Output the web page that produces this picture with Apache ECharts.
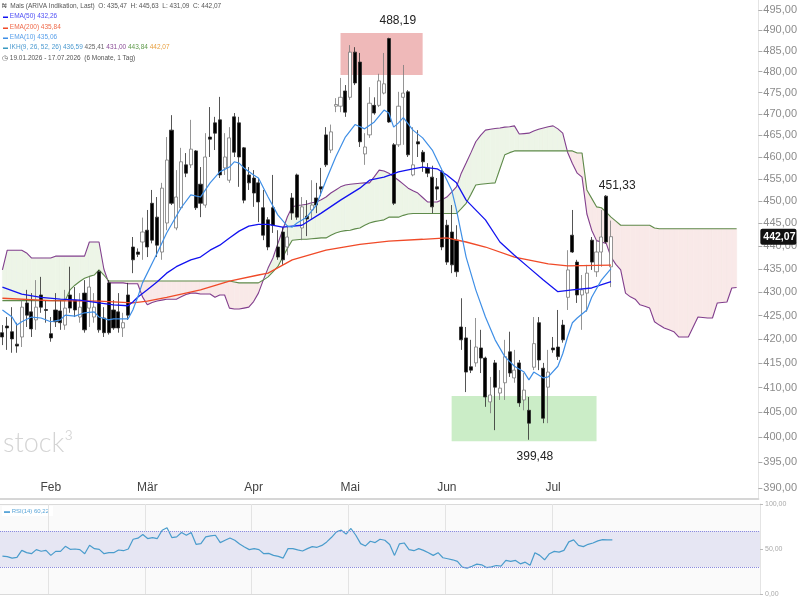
<!DOCTYPE html>
<html><head><meta charset="utf-8">
<script src="https://cdn.jsdelivr.net/npm/echarts@6/dist/echarts.min.js"></script>
<style>html,body{margin:0;padding:0;background:#fff}#c{width:800px;height:600px}</style>
</head><body><div id="c"></div>
<script>
// ---- trading days (categories) ----
const janDays = [19,20,21,22,23,26,27,28,29,30];
const febDays = [2,3,4,5,6,9,10,11,12,13,16,17,18,19,20,23,24,25,26,27];
const marDays = [2,3,4,5,6,9,10,11,12,13,16,17,18,19,20,23,24,25,26,27,30,31];
const aprDays = [1,2,7,8,9,10,13,14,15,16,17,20,21,22,23,24,27,28,29,30];
const mayDays = [4,5,6,7,8,11,12,13,14,15,18,19,20,21,22,25,26,27,28,29];
const junDays = [1,2,3,4,5,8,9,10,11,12,15,16,17,18,19,22,23,24,25,26,29,30];
const julDays = [1,2,3,6,7,8,9,10,13,14,15,16,17];
const monthNames = ['Jan','Feb','Mär','Apr','Mai','Jun','Jul'];
const futureSlots = 30;

// ---- OHLC ----
const opens = [421.4,422.8,421.6,419.0,420.5,427.7,425.8,424.1,429.4,426.3,
421.2,426.2,426.0,423.0,429.4,428.3,424.7,429.8,426.6,424.7,
434.4,424.5,432.0,426.2,425.8,422.4,429.4,439.8,438.7,440.9,
443.5,449.5,446.4,438.7,445.1,466.2,444.0,448.5,458.2,458.2,
461.4,453.8,449.1,464.6,467.9,468.6,457.5,454.7,469.3,467.9,
462.1,455.9,455.2,454.1,448.5,445.8,448.5,439.8,443.1,439.8,
450.7,455.9,444.0,446.6,448.0,450.7,453.2,465.1,461.6,471.8,
471.8,475.4,473.9,484.7,482.3,460.7,465.1,472.0,472.0,474.9,
488.0,462.8,462.8,473.9,475.2,455.9,463.5,461.1,457.5,455.4,
453.2,456.6,444.6,443.1,441.3,422.6,420.3,414.3,415.1,418.2,
416.1,407.1,415.1,408.9,411.0,417.4,412.0,415.1,407.5,405.4,
414.2,423.5,414.0,410.1,418.2,418.4,423.0,428.9,442.4,436.5,
429.4,429.8,441.3,434.4,438.7,451.1,435.47];
const highs = [423.0,424.7,426.8,423.5,428.3,430.5,429.8,432.6,433.3,428.3,
424.7,429.8,428.3,430.5,435.5,431.1,429.8,432.6,433.3,429.8,
434.8,426.8,432.6,428.3,429.8,425.6,432.0,442.0,439.5,446.3,
448.0,452.5,450.9,454.1,464.6,469.7,457.0,462.1,460.9,468.6,
461.6,457.7,465.5,471.6,469.3,474.0,465.5,466.9,470.2,469.3,
462.3,457.7,457.0,455.2,452.5,446.4,455.9,443.5,444.2,444.6,
451.8,456.2,450.9,450.2,454.7,454.1,457.5,466.9,467.5,473.7,
478.5,476.8,486.4,485.9,484.5,465.5,476.3,473.9,479.5,484.5,
488.19,463.2,475.2,481.6,475.6,466.9,466.2,461.6,458.6,458.0,
455.2,457.0,445.8,449.1,444.6,428.7,422.6,419.9,424.5,422.0,
416.4,412.2,415.7,413.6,419.9,421.6,417.8,415.7,413.0,408.1,
424.7,424.7,415.1,417.8,420.5,426.2,424.1,439.1,448.0,437.0,
433.7,435.9,442.0,441.3,448.0,451.33,445.63];
const lows = [418.8,417.8,417.2,417.2,418.4,422.6,420.5,422.0,425.6,423.5,
419.5,422.6,422.0,422.0,425.6,424.7,423.5,421.4,422.6,423.5,
421.4,420.5,421.0,422.0,421.4,420.5,424.1,434.1,437.6,437.0,
437.6,440.6,437.6,437.0,443.5,449.1,443.5,448.0,455.4,457.5,
448.0,446.4,448.5,460.0,461.6,455.2,455.9,454.1,460.0,453.2,
449.5,452.5,448.7,445.3,441.3,439.1,442.9,437.0,435.9,438.0,
445.8,445.8,441.3,442.2,445.8,447.3,451.1,457.7,460.9,470.4,
470.4,469.3,473.3,476.8,462.3,458.2,464.4,469.8,471.6,474.6,
467.9,449.1,462.3,462.8,460.0,455.6,460.0,456.6,455.4,447.3,
450.2,439.1,435.9,434.1,433.3,417.8,409.1,413.0,414.3,413.0,
406.1,404.8,401.4,407.5,407.5,412.2,411.0,406.1,405.4,399.48,
413.6,413.6,402.8,402.8,417.2,415.7,419.3,426.2,438.5,427.7,
422.0,425.8,434.8,433.3,435.5,440.6,431.09];
const closes = [420.5,422.4,420.1,418.6,426.8,425.1,422.2,426.8,426.8,426.1,
420.3,423.7,423.5,426.6,426.6,426.2,426.8,422.0,431.1,426.8,
422.0,421.4,421.4,422.4,422.4,423.5,425.1,437.0,438.2,443.1,
439.8,441.3,440.2,452.9,459.3,449.5,450.9,458.9,456.3,461.8,
448.5,449.5,460.0,464.1,465.5,455.9,460.0,464.4,461.1,460.0,
450.2,454.1,451.8,449.8,442.4,439.8,444.6,437.6,437.0,442.0,
447.3,446.4,448.7,446.0,449.1,449.1,452.7,458.2,465.8,472.2,
473.9,470.4,484.7,477.3,463.5,462.3,472.5,470.2,477.8,477.1,
468.1,449.5,471.8,474.9,460.5,458.2,463.0,458.9,456.3,448.7,
452.7,439.8,436.5,435.9,434.4,419.9,413.2,413.6,418.4,416.1,
408.1,408.5,410.1,409.9,416.4,413.0,413.6,406.9,409.5,402.8,
419.1,415.7,403.8,413.2,417.8,416.4,419.9,434.8,438.7,429.4,
430.5,434.1,436.5,438.7,442.0,440.9,442.07];

// ---- moving averages [index, value] ----
const ema50 = [[0,431.1],[4,429.6],[8,428.9],[12,428.5],[16,428.3],[20,427.7],[23,427.3],[26,427.1],[27,427.9],[28,428.9],[30,430.5],[32,432.2],[34,434.1],[36,435.5],[39,437.0],[41,437.6],[43,439.1],[45,440.2],[47,441.8],[49,443.3],[51,444.4],[53,444.8],[55,444.8],[58,444.2],[62,444.6],[66,447.3],[70,450.2],[74,452.9],[76,454.7],[79,455.4],[82,456.6],[85,457.3],[87,457.7],[90,457.3],[92,455.9],[94,454.1],[96,450.2],[100,445.8],[103,440.9],[106,438.0],[109,435.3],[112,432.6],[115,430.1],[118,430.5],[122,430.9],[126,432.26]];
const ema200 = [[0,428.7],[10,428.2],[20,428.1],[27,427.7],[30,428.1],[34,428.9],[41,430.5],[47,432.4],[53,433.7],[55,434.1],[60,437.0],[67,439.1],[74,440.4],[80,441.1],[87,441.5],[92,441.8],[96,440.9],[100,439.8],[106,437.6],[113,436.1],[117,435.7],[126,435.84]];
const ema10 = [[0,426.2],[2,424.7],[3,423.0],[4,423.7],[6,424.7],[8,424.5],[10,423.7],[12,424.1],[13,425.1],[15,424.9],[17,425.6],[19,425.8],[20,424.7],[22,424.1],[23,424.3],[26,424.3],[27,426.2],[28,428.9],[29,432.0],[32,438.4],[34,442.9],[37,448.5],[39,451.4],[41,450.9],[43,454.1],[45,456.6],[47,457.7],[48,458.9],[49,458.6],[50,457.5],[52,455.9],[53,455.2],[55,450.9],[57,446.9],[59,444.4],[60,444.2],[61,445.1],[63,446.4],[65,449.1],[67,454.7],[69,460.0],[71,464.6],[73,467.5],[75,466.5],[77,468.1],[79,470.9],[80,470.2],[81,466.9],[82,467.9],[83,469.1],[85,466.2],[87,464.4],[89,461.6],[91,457.0],[93,452.5],[94,448.0],[96,437.6],[98,430.5],[100,424.7],[102,419.9],[104,416.4],[106,414.4],[108,413.2],[109,411.6],[110,413.2],[112,412.0],[113,412.2],[115,414.4],[116,417.0],[117,420.5],[118,423.5],[119,424.5],[121,426.2],[122,428.9],[124,432.6],[126,435.06]];

// ---- Ichimoku Senkou spans (one value per slot, 0..152) ----
const senkouA = [434.8,439.1,439.1,439.1,439.1,438.5,437.4,437.4,437.4,437.4,
437.4,437.8,437.8,437.8,437.8,437.8,437.8,437.8,440.9,440.9,
440.9,435.0,432.0,432.0,432.0,432.0,431.8,431.8,431.8,429.0,
427.3,427.8,428.1,428.3,428.5,428.5,428.5,429.0,429.5,429.8,
429.8,429.6,429.6,429.6,428.9,429.4,429.4,426.6,426.4,426.4,
426.6,426.8,428.0,429.8,432.6,435.2,437.4,440.5,443.5,446.5,
448.7,449.0,449.1,449.3,449.6,449.8,450.3,450.9,451.8,452.5,
453.2,453.6,453.8,453.9,454.0,454.1,454.1,455.5,457.0,456.8,
456.3,455.5,454.7,453.8,452.9,452.3,451.8,450.8,449.8,449.8,
449.8,450.3,450.9,452.0,453.2,456.3,458.6,461.0,463.5,465.0,
466.2,466.4,466.6,466.7,466.9,467.0,467.2,465.3,465.4,465.5,
466.0,466.4,466.7,467.0,467.2,466.5,465.5,461.1,458.5,456.3,
455.4,447.1,443.5,441.2,440.9,440.6,437.6,436.0,434.8,429.8,
429.0,428.5,427.3,427.0,426.6,423.7,423.0,422.4,422.0,421.6,
420.5,420.5,420.5,422.6,424.7,424.6,424.5,424.5,427.7,427.8,
427.9,430.9,431.0];
const senkouB = [428.2,428.2,428.2,428.2,428.2,428.2,428.2,428.2,428.2,428.2,
428.2,428.2,428.2,428.2,430.5,431.5,432.3,433.0,433.4,433.7,
434.8,433.7,432.4,432.4,432.4,432.4,432.4,432.4,432.4,432.4,
432.4,432.4,432.4,432.4,432.4,432.4,432.4,432.4,432.4,432.4,
432.4,432.4,432.4,432.4,432.4,432.4,432.4,432.4,432.2,432.0,
432.0,432.0,432.0,432.0,432.6,433.3,434.4,435.5,437.5,439.5,
441.3,441.4,441.5,441.5,441.6,441.7,441.8,441.8,442.4,442.9,
443.2,443.4,443.5,443.8,444.0,444.6,445.1,445.4,445.6,445.8,
446.4,446.4,446.4,446.8,447.1,447.2,447.2,447.2,447.2,447.2,
447.2,447.2,447.2,447.2,447.2,448.3,449.5,451.5,453.6,453.8,
453.9,454.0,454.1,457.3,460.5,461.0,461.4,461.4,461.4,461.4,
461.4,461.4,461.4,461.4,461.4,461.4,461.4,461.4,461.4,460.9,
460.9,452.5,450.6,448.7,448.5,447.5,446.4,445.5,444.6,444.6,
444.6,444.6,444.6,444.6,444.6,444.0,443.84,443.84,443.84,443.84,
443.84,443.84,443.84,443.84,443.84,443.84,443.84,443.84,443.84,443.84,
443.84,443.84,443.84];

// ---- RSI(14) ----
const rsi = [42.1,41.5,39.8,40.6,48.5,46.0,44.8,49.3,47.5,48.5,
42.9,47.4,47.4,53.0,49.6,50.0,49.3,44.8,54.1,50.4,
49.6,44.8,45.9,45.9,48.9,48.1,50.0,60.8,62.0,66.1,
61.6,62.7,61.6,70.9,73.6,62.7,63.5,68.3,65.3,68.3,
55.2,56.0,63.5,64.5,65.3,57.1,59.7,62.3,59.7,55.5,
52.2,49.3,50.4,49.3,44.8,45.1,42.9,41.8,39.9,50.4,
50.4,49.0,47.8,50.4,52.6,51.9,54.0,57.9,63.0,69.0,
70.9,66.5,72.8,65.3,56.0,53.4,58.6,57.1,60.8,59.7,
55.0,42.9,55.6,56.7,49.3,48.1,50.4,48.5,45.9,42.9,
45.9,40.3,39.2,38.0,36.2,29.8,28.7,30.9,33.2,32.4,
29.4,30.2,31.7,30.9,37.3,36.2,37.3,33.5,35.4,32.0,
45.9,42.9,38.0,44.8,47.4,46.6,48.5,57.9,60.1,54.1,
52.6,55.2,56.7,59.0,60.5,60.1,60.22];

// ---- axis ticks & annotations ----
const yTicks = [390,395,400,405,410,415,420,425,430,435,440,445,450,455,460,465,470,475,480,485,490,495];
const highBox = {from: 70, to: 87, low: 479.2, high: 489.35};
const lowBox = {from: 93, to: 123, low: 399.2, high: 408.3};
const peakIdx = 80, troughIdx = 109, lastHighIdx = 125;

// ---- build ----
const fmt = v => Number(v).toFixed(2).replace('.', ',');
const months = [janDays,febDays,marDays,aprDays,mayDays,junDays,julDays];
const cats = []; const monthLabelAt = {};
months.forEach((days, k) => {
  if (k > 0) monthLabelAt[cats.length] = monthNames[k];
  days.forEach(d => cats.push(d + '.' + (k + 1) + '.2026'));
});
for (let k = 1; k <= futureSlots; k++) cats.push('+' + k);

const candles = opens.map((o, i) => [o, closes[i], lows[i], highs[i]]);
const cloud = [];
for (let i = 0; i < senkouA.length - 1; i++) cloud.push([i, senkouA[i], senkouB[i], senkouA[i+1], senkouB[i+1]]);
const GREEN = '#edf5e7', PINK = '#f9e9e8';

function cloudItem(params, api) {
  const i = api.value(0);
  const a0 = api.coord([i, api.value(1)]), b0 = api.coord([i, api.value(2)]);
  const a1 = api.coord([i + 1, api.value(3)]), b1 = api.coord([i + 1, api.value(4)]);
  const d0 = b0[1] - a0[1], d1 = b1[1] - a1[1];
  const col = d => d >= 0 ? GREEN : PINK;
  const poly = (pts, c) => ({type: 'polygon', shape: {points: pts}, style: {fill: c, stroke: c, lineWidth: 0.6}});
  if ((d0 >= 0 && d1 >= 0) || (d0 <= 0 && d1 <= 0)) return poly([a0, a1, b1, b0], col(d0 + d1));
  const t = d0 / (d0 - d1);
  const c = [a0[0] + t * (a1[0] - a0[0]), a0[1] + t * (a1[1] - a0[1])];
  return {type: 'group', children: [poly([a0, c, b0], col(d0)), poly([c, a1, b1], col(d1))]};
}

const FONT = '"Liberation Sans", Arial, sans-serif';
const chart = echarts.init(document.getElementById('c'), null, {renderer: 'canvas'});
const isMonth = idx => monthLabelAt[idx] !== undefined;
const lastClose = closes[closes.length - 1];

chart.setOption({
  animation: false,
  backgroundColor: '#ffffff',
  textStyle: {fontFamily: FONT},
  grid: [
    {left: 0, right: 40, top: 0, height: 499},
    {left: 0, right: 40, top: 504, height: 90, show: true, backgroundColor: '#fafafa', borderWidth: 0}
  ],
  xAxis: [
    {type: 'category', gridIndex: 0, data: cats, boundaryGap: true,
     axisLine: {show: true, lineStyle: {color: '#d6d6d6', width: 2}},
     axisTick: {show: false},
     axisLabel: {inside: true, interval: isMonth, formatter: (v, idx) => monthLabelAt[idx] || '', color: '#444', fontSize: 12, margin: 5},
     splitLine: {show: false}},
    {type: 'category', gridIndex: 1, data: cats, boundaryGap: true,
     axisLine: {show: false}, axisTick: {show: false}, axisLabel: {show: false},
     splitLine: {show: true, interval: isMonth, lineStyle: {color: '#e3e3e3', width: 1}}}
  ],
  yAxis: [
    {type: 'log', logBase: 10, gridIndex: 0, position: 'right', min: 387.85, max: 497.47,
     axisLine: {show: true, lineStyle: {color: '#e4e4e4'}},
     axisTick: {show: true, customValues: yTicks, length: 4, lineStyle: {color: '#aaa'}},
     axisLabel: {customValues: yTicks, formatter: v => fmt(v), color: '#8c8c8c', fontSize: 11, margin: 5},
     splitLine: {show: false}},
    {type: 'value', gridIndex: 1, position: 'right', min: 0, max: 100, interval: 50,
     axisLine: {show: true, lineStyle: {color: '#e4e4e4'}},
     axisTick: {show: true, length: 3, lineStyle: {color: '#bbb'}},
     axisLabel: {formatter: v => fmt(v), color: '#aaa', fontSize: 7, margin: 5},
     splitLine: {show: true, lineStyle: {color: '#dadada'}}}
  ],
  series: [
    {type: 'custom', name: 'cloud', xAxisIndex: 0, yAxisIndex: 0, renderItem: cloudItem, data: cloud,
     encode: {x: 0, y: [1, 2]}, z: 1, silent: true, clip: true},
    {type: 'line', name: 'Senkou A', xAxisIndex: 0, yAxisIndex: 0, data: senkouA.map((v, i) => [i, v]),
     symbol: 'none', lineStyle: {color: '#823f8e', width: 1.1}, z: 2},
    {type: 'line', name: 'Senkou B', xAxisIndex: 0, yAxisIndex: 0, data: senkouB.map((v, i) => [i, v]),
     symbol: 'none', lineStyle: {color: '#5f8b4b', width: 1.1}, z: 2},
    {type: 'candlestick', name: 'Mais', xAxisIndex: 0, yAxisIndex: 0, data: candles, barWidth: 3.6, z: 3,
     itemStyle: {color: '#ffffff', color0: '#000000', borderColor: '#7a7a7a', borderColor0: '#2a2a2a', borderWidth: 0.8},
     markArea: {silent: true, z: 3, data: [
       [{xAxis: highBox.from, yAxis: highBox.low, itemStyle: {color: 'rgba(214,70,70,0.38)'}}, {xAxis: highBox.to, yAxis: highBox.high}],
       [{xAxis: lowBox.from, yAxis: lowBox.low, itemStyle: {color: 'rgba(110,205,100,0.36)'}}, {xAxis: lowBox.to, yAxis: lowBox.high}]
     ]},
     markPoint: {symbol: 'circle', symbolSize: 1, itemStyle: {color: 'rgba(0,0,0,0)'}, silent: true,
       label: {show: true, color: '#222', fontSize: 12, position: 'inside'},
       data: [
         {coord: [peakIdx, highs[peakIdx]], label: {formatter: fmt(highs[peakIdx]), offset: [9, -17]}},
         {coord: [troughIdx, lows[troughIdx]], label: {formatter: fmt(lows[troughIdx]), offset: [6, 17]}},
         {coord: [lastHighIdx, highs[lastHighIdx]], label: {formatter: fmt(highs[lastHighIdx]), offset: [11, -9]}}
       ]}},
    {type: 'line', name: 'EMA(200)', xAxisIndex: 0, yAxisIndex: 0, data: ema200, symbol: 'none', z: 4,
     lineStyle: {color: '#f04a28', width: 1.3}},
    {type: 'line', name: 'EMA(50)', xAxisIndex: 0, yAxisIndex: 0, data: ema50, symbol: 'none', z: 4,
     lineStyle: {color: '#1212f0', width: 1.3}},
    {type: 'line', name: 'EMA(10)', xAxisIndex: 0, yAxisIndex: 0, data: ema10, symbol: 'none', z: 4,
     lineStyle: {color: '#3f8fe6', width: 1.2},
     markLine: {silent: true, symbol: ['none', 'none'], z: 10,
       lineStyle: {color: 'rgba(255,255,255,0)', width: 0.1, type: 'solid'},
       label: {show: true, position: 'end', formatter: () => fmt(lastClose), color: '#ffffff', fontWeight: 'bold', fontSize: 10.5,
               backgroundColor: '#111111', padding: [3, 1, 2, 3], borderRadius: 2, distance: 2},
       emphasis: {disabled: true},
       data: [{yAxis: lastClose}]}},
    {type: 'line', name: 'RSI(14)', xAxisIndex: 1, yAxisIndex: 1, data: rsi, symbol: 'none', z: 4,
     lineStyle: {color: '#4a9ccc', width: 1.2},
     markArea: {silent: true, itemStyle: {color: '#e6e6f3'}, data: [[{yAxis: 30}, {yAxis: 70}]]},
     markLine: {silent: true, symbol: ['none', 'none'], label: {show: false},
       lineStyle: {color: '#8a8ae0', type: 'dotted', width: 1}, data: [{yAxis: 30}, {yAxis: 70}]}}
  ],
  graphic: [
    {type: 'text', left: 2, top: 3, style: {text: '₦  Mais (ARIVA Indikation, Last)  O: 435,47  H: 445,63  L: 431,09  C: 442,07', fill: '#555', font: '6.5px ' + FONT}},
    {type: 'text', left: 3, top: 13, style: {text: '{m|▬} {t|EMA(50) 432,26}', font: '6.5px ' + FONT,
      rich: {m: {fill: '#1212f0', fontSize: 5}, t: {fill: '#4f4ff5', fontSize: 6.5}}}},
    {type: 'text', left: 3, top: 24, style: {text: '{m|▬} {t|EMA(200) 435,84}', font: '6.5px ' + FONT,
      rich: {m: {fill: '#f04a28', fontSize: 5}, t: {fill: '#ef6a4a', fontSize: 6.5}}}},
    {type: 'text', left: 3, top: 34, style: {text: '{m|▬} {t|EMA(10) 435,06}', font: '6.5px ' + FONT,
      rich: {m: {fill: '#3f8fe6', fontSize: 5}, t: {fill: '#5aa0ea', fontSize: 6.5}}}},
    {type: 'text', left: 3, top: 44, style: {text: '{m|▬} {t|IKH(9, 26, 52, 26) 436,59} {g|425,41} {p|431,00} {gr|443,84} {o|442,07}', font: '6.5px ' + FONT,
      rich: {m: {fill: '#3a9ac0', fontSize: 5}, t: {fill: '#4c9ad0', fontSize: 6.5}, g: {fill: '#666', fontSize: 6.5},
             p: {fill: '#8a4a96', fontSize: 6.5}, gr: {fill: '#5f9a4b', fontSize: 6.5}, o: {fill: '#e8a040', fontSize: 6.5}}}},
    {type: 'text', left: 2, top: 55, style: {text: '◷ 19.01.2026 - 17.07.2026  (6 Monate, 1 Tag)', fill: '#555', font: '6.5px ' + FONT}},
    {type: 'text', left: 3, top: 430, style: {text: 'stock³', fill: '#d4d4d4', font: '300 27px Lato, sans-serif'}},
    {type: 'text', left: 2, top: 506, style: {text: '▬ RSI(14) 60,22', fill: '#5aa5d8', font: '6px ' + FONT, backgroundColor: '#ffffff', padding: [2, 4, 2, 2]}}
  ]
});
</script>
</body></html>
